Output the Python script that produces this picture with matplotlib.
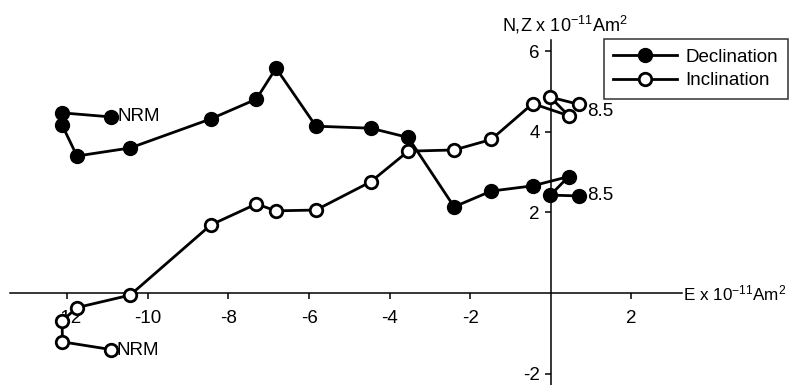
import matplotlib
matplotlib.use("Agg")
import matplotlib.pyplot as plt
from matplotlib.lines import Line2D

plt.rcParams['font.family'] = ['Liberation Sans', 'DejaVu Sans']
plt.rcParams['mathtext.fontset'] = 'custom'
plt.rcParams['mathtext.rm'] = 'Liberation Sans'
plt.rcParams['mathtext.it'] = 'Liberation Sans'

# Orthogonal vector projection: shared East component, North (declination) and vertical (inclination)
east = [-10.92, -12.12, -12.13, -11.76, -10.44, -8.44, -7.31, -6.82, -5.83,
        -4.47, -3.54, -2.40, -1.48, -0.45, 0.44, -0.01, 0.70]
north = [4.37, 4.47, 4.17, 3.40, 3.60, 4.32, 4.81, 5.58, 4.14,
         4.09, 3.86, 2.14, 2.53, 2.66, 2.89, 2.43, 2.41]
vertical = [-1.40, -1.21, -0.69, -0.36, -0.05, 1.69, 2.21, 2.04, 2.06,
            2.76, 3.52, 3.55, 3.81, 4.70, 4.40, 4.86, 4.68]
first_label = "NRM"
last_label = "8.5"
x_ticks = [-12, -10, -8, -6, -4, -2, 2]
y_ticks = [-2, 2, 4, 6]

FS = 13.5

fig = plt.figure(figsize=(7.89, 3.85), dpi=100)
ax = fig.add_axes([0, 0, 1, 1])
ax.set_xlim(-13.67, 5.91)
ax.set_ylim(-2.28, 7.27)

for s in ['top', 'right']:
    ax.spines[s].set_visible(False)
ax.spines['bottom'].set_position(('data', 0))
ax.spines['left'].set_position(('data', 0))
ax.spines['bottom'].set_bounds(-13.42, 3.25)
ax.spines['left'].set_bounds(-2.4, 6.28)
for s in ['bottom', 'left']:
    ax.spines[s].set_linewidth(1.1)

ax.set_xticks(x_ticks)
ax.set_yticks(y_ticks)
ax.set_xticklabels([str(t) for t in x_ticks])
ax.set_yticklabels([str(t) for t in y_ticks])
ax.tick_params(axis='x', direction='out', length=4, width=1.1, pad=8, labelsize=FS)
ax.tick_params(axis='y', direction='out', length=4, width=1.1, pad=4, labelsize=FS)

lw = 2.0
ax.plot(east, north, '-o', color='black', lw=lw, markersize=10,
        markerfacecolor='black', markeredgecolor='black', zorder=3,
        clip_on=False)
ax.plot(east, vertical, '-o', color='black', lw=lw, markersize=9,
        markerfacecolor='white', markeredgecolor='black', markeredgewidth=2.0,
        zorder=3, clip_on=False)

# Step labels
ax.annotate(first_label, (east[0], north[0]), xytext=(5, 0), textcoords='offset points',
            ha='left', va='center', fontsize=FS)
ax.annotate(first_label, (east[0], vertical[0]), xytext=(4, -1), textcoords='offset points',
            ha='left', va='center', fontsize=FS)
ax.annotate(last_label, (east[-1], north[-1]), xytext=(6, 0), textcoords='offset points',
            ha='left', va='center', fontsize=FS)
ax.annotate(last_label, (east[-1], vertical[-1]), xytext=(6, -5), textcoords='offset points',
            ha='left', va='center', fontsize=FS)

# Axis titles
ax.text(3.27, 0, r'E x 10$^{\mathregular{-11}}$Am$^{\mathregular{2}}$',
        ha='left', va='center', fontsize=12.3)
ax.text(-1.22, 6.5, r'N,Z x 10$^{\mathregular{-11}}$Am$^{\mathregular{2}}$',
        ha='left', va='baseline', fontsize=13)

handles = [
    Line2D([], [], color='black', lw=lw, marker='o', markersize=10,
           markerfacecolor='black', markeredgecolor='black'),
    Line2D([], [], color='black', lw=lw, marker='o', markersize=9,
           markerfacecolor='white', markeredgecolor='black', markeredgewidth=2.0),
]
leg = ax.legend(handles, ['Declination', 'Inclination'], loc='upper left',
                bbox_to_anchor=(604 / 789, 1 - 39 / 385), bbox_transform=fig.transFigure,
                frameon=True, fancybox=False, borderaxespad=0, fontsize=FS,
                handlelength=3.4, handletextpad=0.45, borderpad=0.5, labelspacing=0.35,
                numpoints=1)
leg.get_frame().set_edgecolor('black')
leg.get_frame().set_linewidth(1.1)

fig.savefig('out.png', dpi=100)
